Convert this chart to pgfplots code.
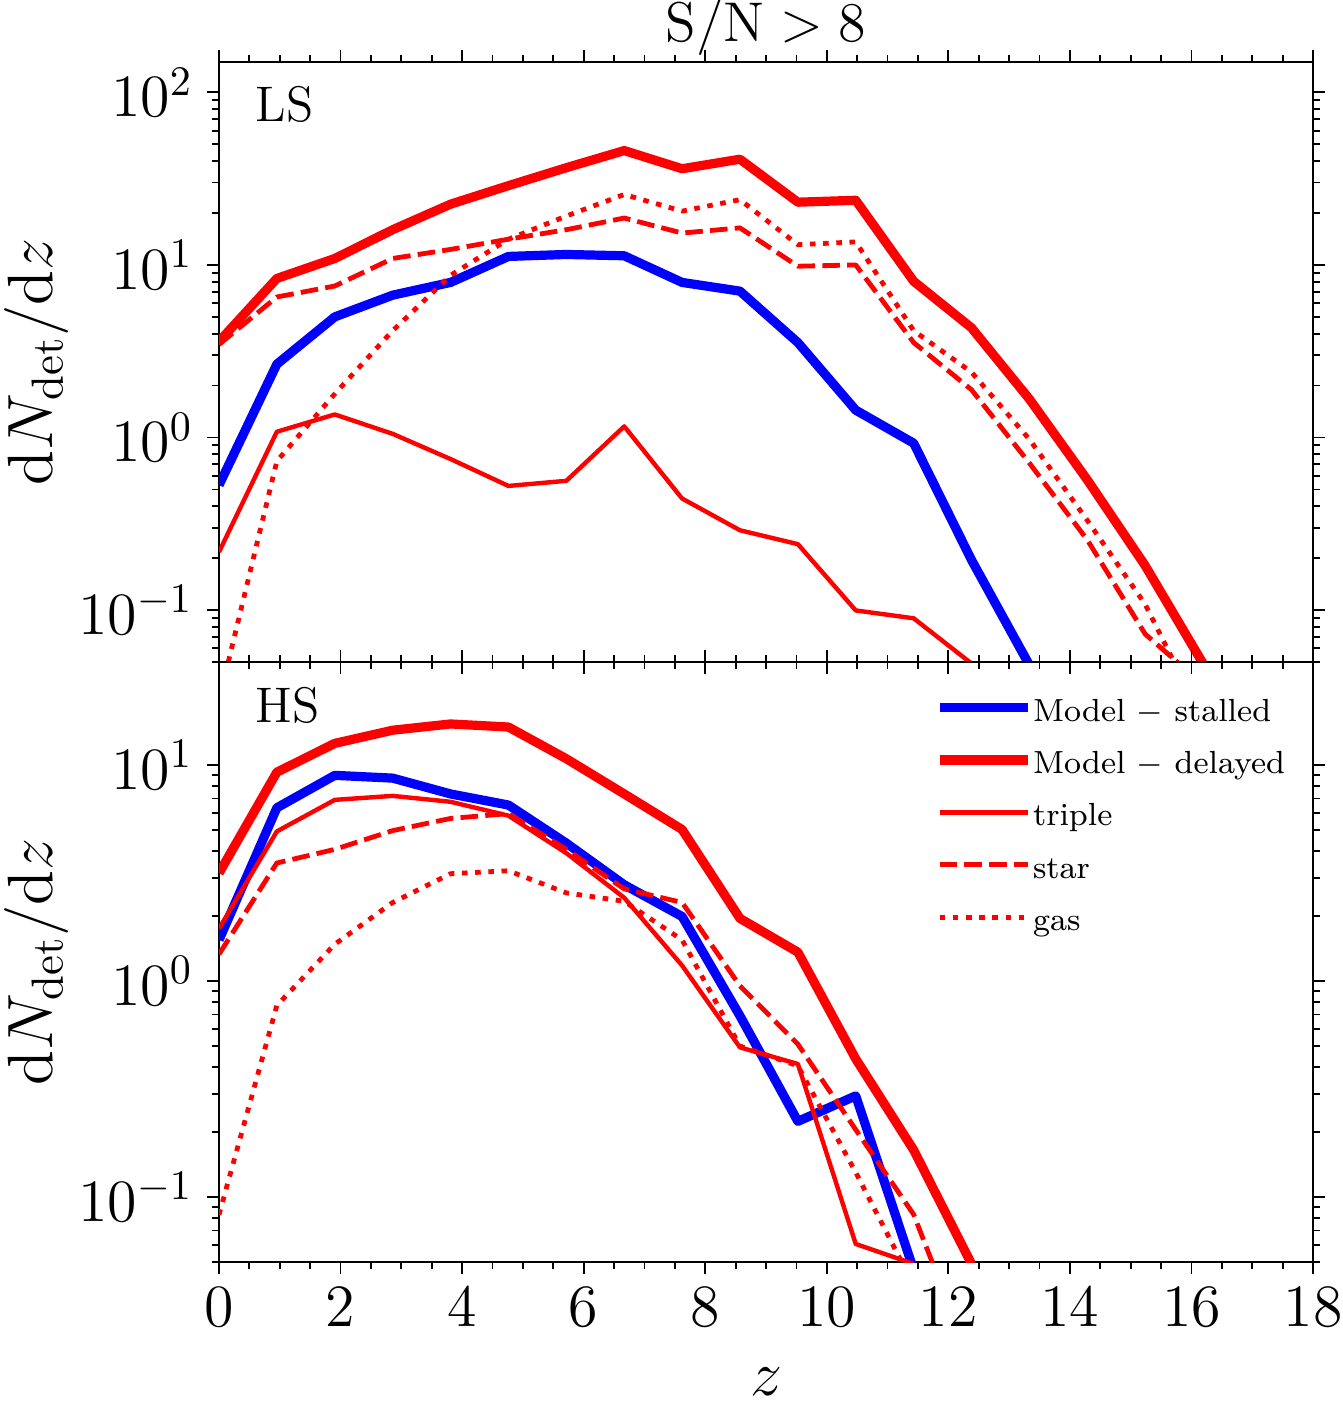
\documentclass[border=0pt]{standalone}
\usepackage{fix-cm}
\usepackage{pgfplots}
\pgfplotsset{compat=1.18}
\newcommand{\tf}{\fontsize{15}{18}\selectfont}
\newcommand{\lf}{\fontsize{16}{19}\selectfont}
\tikzset{
  stalled/.style={blue, line width=2.3pt, line join=round},
  delayed/.style={red, line width=2.3pt, line join=round},
  triple/.style={red, line width=1.1pt, line join=round},
  star/.style={red, line width=1.2pt, line join=round, dash pattern=on 4.4pt off 1.8pt},
  gas/.style={red, line width=1.2pt, line join=round, dash pattern=on 1.4pt off 1.9pt},
}
\begin{document}
\begin{tikzpicture}
\begin{axis}[name=top,
  width=273.5pt, height=150pt, scale only axis,
  xmin=0, xmax=18, ymode=log, ymin=0.05, ymax=150,
  xtick={0,2,...,18}, minor x tick num=3, xticklabels={},
  tick align=outside,
  major tick length=3pt, minor tick length=1.8pt,
  every major tick/.append style={line width=0.45pt, black},
  every minor tick/.append style={line width=0.45pt, black},
  axis line style={line width=0.5pt},
  tick label style={font=\tf},
  label style={font=\lf},
  ylabel={$\mathrm{d}N_{\mathrm{det}}/\mathrm{d}z$},
  ylabel style={at={(axis description cs:-0.1664,0.5)}, anchor=center}]
\addplot[stalled] coordinates {(0,0.53) (0.952,2.66) (1.905,5.0) (2.857,6.68) (3.810,7.92) (4.762,11.2) (5.714,11.5) (6.667,11.3) (7.619,7.92) (8.571,7.05) (9.524,3.55) (10.476,1.44) (11.429,0.927) (12.381,0.195) (13.333,0.048)};
\addplot[delayed] coordinates {(0,3.6) (0.952,8.35) (1.905,10.9) (2.857,16.0) (3.810,22.5) (4.762,28.8) (5.714,36.6) (6.667,46.0) (7.619,36.1) (8.571,41.0) (9.524,23.1) (10.476,23.7) (11.429,8.04) (12.381,4.32) (13.333,1.67) (14.286,0.568) (15.238,0.181) (16.190,0.049)};
\addplot[triple] coordinates {(0,0.217) (0.952,1.08) (1.905,1.36) (2.857,1.05) (3.810,0.75) (4.762,0.524) (5.714,0.561) (6.667,1.16) (7.619,0.443) (8.571,0.290) (9.524,0.241) (10.476,0.0995) (11.429,0.0896) (12.381,0.049)};
\addplot[star] coordinates {(0,3.46) (0.952,6.52) (1.905,7.55) (2.857,10.9) (3.810,12.3) (4.762,14.1) (5.714,16.0) (6.667,18.7) (7.619,15.3) (8.571,16.4) (9.524,9.83) (10.476,10.0) (11.429,3.55) (12.381,1.89) (13.333,0.711) (14.286,0.255) (15.238,0.0726) (16.190,0.037)};
\addplot[gas] coordinates {(0,0.03) (0.952,0.73) (1.905,1.79) (2.857,4.16) (3.810,8.7) (4.762,14.1) (5.714,19.2) (6.667,25.6) (7.619,20.5) (8.571,23.9) (9.524,13.1) (10.476,13.6) (11.429,4.16) (12.381,2.39) (13.333,0.976) (14.286,0.331) (15.238,0.108) (16.190,0.023)};
\node[anchor=base west, font=\fontsize{12.5}{15}\selectfont, inner sep=0pt] at (rel axis cs:0.033,0.9) {LS};
\end{axis}
\begin{axis}[name=bot, at={(top.south west)}, anchor=north west,
  width=273.5pt, height=150pt, scale only axis,
  xmin=0, xmax=18, ymode=log, ymin=0.05, ymax=30,
  xtick={0,2,...,18}, minor x tick num=3,
  tick align=outside,
  major tick length=3pt, minor tick length=1.8pt,
  every major tick/.append style={line width=0.45pt, black},
  every minor tick/.append style={line width=0.45pt, black},
  axis line style={line width=0.5pt},
  tick label style={font=\tf},
  label style={font=\lf},
  ylabel={$\mathrm{d}N_{\mathrm{det}}/\mathrm{d}z$},
  ylabel style={at={(axis description cs:-0.1664,0.5)}, anchor=center},
  xlabel={$z$},
  xlabel style={at={(axis description cs:0.5,-0.199)}, anchor=center, inner sep=0pt},
  legend style={draw=none, fill=none, at={(axis description cs:0.6545,0.9434)}, anchor=north west,
    inner sep=0pt, outer sep=0pt, row sep=4.9pt,
    font=\fontsize{8}{10}\selectfont,
    nodes={inner sep=0pt, text height=6.3pt, text depth=1.9pt, anchor=base west}},
  legend cell align=left,
  legend image code/.code={\draw[#1] (0pt,3.4pt) -- (20.5pt,3.4pt); \path (0pt,3.4pt) -- (22.2pt,3.4pt);}]
\addplot[stalled] coordinates {(0,1.55) (0.952,6.34) (1.905,8.96) (2.857,8.70) (3.810,7.35) (4.762,6.53) (5.714,4.35) (6.667,2.79) (7.619,1.99) (8.571,0.69) (9.524,0.224) (10.476,0.294) (11.429,0.046)};
\addlegendentry{Model $-$ stalled}
\addplot[delayed] coordinates {(0,3.16) (0.952,9.27) (1.905,12.6) (2.857,14.5) (3.810,15.5) (4.762,15.0) (5.714,10.7) (6.667,7.35) (7.619,5.03) (8.571,1.95) (9.524,1.36) (10.476,0.436) (11.429,0.165) (12.381,0.049)};
\addlegendentry{Model $-$ delayed}
\addplot[triple] coordinates {(0,1.75) (0.952,4.93) (1.905,6.90) (2.857,7.20) (3.810,6.76) (4.762,5.83) (5.714,3.91) (6.667,2.43) (7.619,1.18) (8.571,0.493) (9.524,0.413) (10.476,0.0606) (11.429,0.049)};
\addlegendentry{triple}
\addplot[star] coordinates {(0,1.33) (0.952,3.52) (1.905,4.07) (2.857,4.97) (3.810,5.66) (4.762,5.96) (5.714,4.07) (6.667,2.67) (7.619,2.31) (8.571,0.95) (9.524,0.51) (10.476,0.205) (11.429,0.083) (12.381,0.017)};
\addlegendentry{star}
\addplot[gas] coordinates {(0,0.0828) (0.952,0.771) (1.905,1.48) (2.857,2.31) (3.810,3.14) (4.762,3.24) (5.714,2.56) (6.667,2.34) (7.619,1.55) (8.571,0.50) (9.524,0.405) (10.476,0.13) (11.429,0.039)};
\addlegendentry{gas}
\node[anchor=base west, font=\fontsize{12.5}{15}\selectfont, inner sep=0pt] at (rel axis cs:0.033,0.9) {HS};
\end{axis}
\node[anchor=base, font=\fontsize{14}{17}\selectfont, inner sep=0pt] at ([yshift=5pt]top.north) {$\mathrm{S/N} > 8$};
\pgfresetboundingbox
\useasboundingbox ([xshift=-54.75pt,yshift=15.5pt]top.north west) rectangle ([xshift=7.25pt,yshift=-35.25pt]bot.south east);
\end{tikzpicture}
\end{document}
